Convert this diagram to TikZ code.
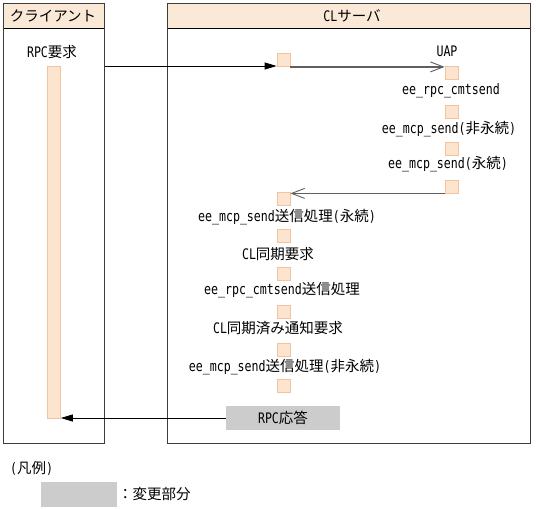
\documentclass[tikz,border=0pt]{standalone}
\usepackage{fontspec}
\setmainfont{DejaVu Sans Mono}[FakeStretch=0.8]
\newfontfamily\jpf{Noto Sans CJK JP}
\newcommand\J[1]{{\jpf #1}}
\usetikzlibrary{arrows.meta}
\definecolor{hdr}{RGB}{251,233,216}
\definecolor{sqf}{RGB}{252,228,206}
\definecolor{sqb}{RGB}{240,196,160}
\definecolor{frm}{RGB}{60,60,60}
\definecolor{callc}{RGB}{95,95,95}
\definecolor{chgf}{RGB}{204,204,204}
\tikzset{
  frame/.style={draw=frm, line width=1.2pt, inner sep=0pt, anchor=north west},
  hdrbox/.style={draw=black, fill=hdr, line width=0.9pt, inner sep=0pt, anchor=north west, minimum height=25pt},
  sqbox/.style={draw=sqb, fill=sqf, line width=0.8pt, inner sep=0pt, minimum width=13pt, minimum height=13pt},
  lbl/.style={inner sep=0pt},
  chg/.style={fill=chgf, inner sep=0pt},
  reqarr/.style={draw=black, line width=0.8pt, -{Triangle[length=12pt,width=7pt]}},
  callarr/.style={draw=callc, line width=1.4pt, -{Straight Barb[length=13pt,width=10pt,line width=0.9pt]}},
}
\begin{document}
\begin{tikzpicture}[x=1pt,y=-1pt,font=\fontsize{14.5}{17}\selectfont]
\useasboundingbox (0,0) rectangle (536,509);
% headers and frames
\node[hdrbox, minimum width=101pt] (clienthdr) at (3,3) {};
\node[lbl] (clienttitle) at (53,16) {\J{クライアント}};
\node[hdrbox, minimum width=363pt] (serverhdr) at (167,3) {};
\node[lbl] (servertitle) at (352,16) {CL\J{サーバ}};
\node[frame, minimum width=101pt, minimum height=440pt] (client) at (3,3) {};
\node[frame, minimum width=363pt, minimum height=440pt] (server) at (167,3) {};
% client side
\node[lbl] (rpcreq) at (52,52) {RPC\J{要求}};
\node[sqbox, minimum height=352pt, anchor=north west] (bar) at (47,66) {};
% server squares
\node[sqbox] (s0) at (283.5,60) {};
\node[sqbox] (u0) at (451.5,72.5) {};
\node[sqbox] (u1) at (451.5,111.5) {};
\node[sqbox] (u2) at (451.5,149) {};
\node[sqbox] (u3) at (451.5,186.5) {};
\node[sqbox] (l0) at (283.5,198.5) {};
\node[sqbox] (l1) at (283.5,236) {};
\node[sqbox] (l2) at (283.5,274) {};
\node[sqbox] (l3) at (283.5,311.5) {};
\node[sqbox] (l4) at (283.5,349.5) {};
\node[sqbox] (l5) at (283.5,386) {};
% labels
\node[lbl] (tuap) at (447,51) {UAP};
\node[lbl] (trpc) at (451,91) {ee\_rpc\_cmtsend};
\node[lbl] (tnp) at (449,129) {ee\_mcp\_send(\J{非永続})};
\node[lbl] (tp) at (448,164) {ee\_mcp\_send(\J{永続})};
\node[lbl] (t1) at (287,217) {ee\_mcp\_send\J{送信処理}(\J{永続})};
\node[lbl] (t2) at (278,254) {CL\J{同期要求}};
\node[lbl] (t3) at (282,290) {ee\_rpc\_cmtsend\J{送信処理}};
\node[lbl] (t4) at (278,328) {CL\J{同期済み通知要求}};
\node[lbl] (t5) at (285,367) {ee\_mcp\_send\J{送信処理}(\J{非永続})};
\node[chg, minimum width=114pt, minimum height=24pt] (resp) at (283,418) {RPC\J{応答}};
% connectors
\draw[reqarr] ([yshift=-6pt]s0.west -| client.east) -- ([yshift=-6pt]s0.west);
\draw[callarr] (s0.south east) -- (s0.south east -| u0.west);
\draw[callarr] (u3.south west) -- (u3.south west -| l0.east);
\draw[reqarr] (resp.west) -- (resp.west -| bar.east);
% legend
\node[lbl, anchor=west] (legtitle) at (10,468) {(\J{凡例})};
\node[chg, minimum width=76pt, minimum height=25pt, anchor=north west] (legbox) at (41,482) {};
\node[lbl, anchor=west] (legtxt) at (118,494) {\J{：変更部分}};
\end{tikzpicture}
\end{document}
